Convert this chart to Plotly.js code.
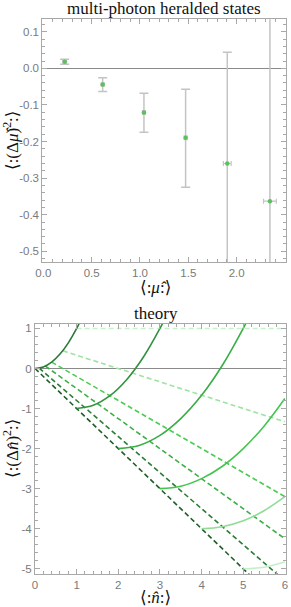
<!DOCTYPE html>
<html>
<head>
<meta charset="utf-8">
<script src="https://cdn.plot.ly/plotly-3.0.1.min.js"></script>
<style>html,body{margin:0;padding:0;background:#fff;}#chart{width:291px;height:607px;}</style>
</head>
<body>
<div id="chart"></div>
<script>
// ---- top panel: multi-photon heralded states ----
const muX = [0.221, 0.614, 1.041, 1.472, 1.903, 2.344];
const muY = [0.018, -0.044, -0.121, -0.190, -0.260, -0.363];
const muYErrPlus = [0.007, 0.018, 0.053, 0.133, 0.304, 0.6];
const muYErrMinus = [0.007, 0.019, 0.054, 0.135, 0.304, 0.6];
const muXErr = [0.02, 0.015, 0.015, 0.015, 0.04, 0.066];
const topXTicks = [0, 0.5, 1, 1.5, 2, 2.5];
const topXTickText = ["0.0", "0.5", "1.0", "1.5", "2.0", "2.5"];
const topYTicks = [-0.5, -0.4, -0.3, -0.2, -0.1, 0, 0.1];
const topYTickText = ["-0.5", "-0.4", "-0.3", "-0.2", "-0.1", "0.0", "0.1"];

// ---- bottom panel: theory ----
// solid curves (k added photons)
const curveX0 = [0, 0.2, 0.4, 0.6, 0.8, 1.0, 1.1];
const curveY0 = [0, 0.04, 0.16, 0.36, 0.64, 1.0, 1.21];
const curveX1 = [1, 1.4, 1.8, 2.2, 2.6, 3.0, 3.15];
const curveY1 = [-1, -0.92, -0.68, -0.28, 0.28, 1.0, 1.31];
const curveX2 = [2, 2.5, 3, 3.5, 4, 4.5, 5, 5.15];
const curveY2 = [-2, -1.92, -1.67, -1.25, -0.67, 0.08, 1.0, 1.31];
const curveX3 = [3, 3.5, 4, 4.5, 5, 5.5, 6];
const curveY3 = [-3, -2.94, -2.75, -2.44, -2.0, -1.44, -0.75];
const curveX4 = [4, 4.5, 5, 5.5, 6];
const curveY4 = [-4, -3.95, -3.8, -3.55, -3.2];
const curveX5 = [5, 5.5, 6];
const curveY5 = [-5, -4.96, -4.83];
// dashed lines (constant mean thermal number)
const dashX0 = [0, 5.3];   const dashY0 = [0, -5.3];
const dashX1 = [0.1, 6];   const dashY1 = [0.01, -5.3];
const dashX2 = [0.25, 6];  const dashY2 = [0.06, -4.25];
const dashX3 = [0.4, 6];   const dashY3 = [0.16, -3.2];
const dashX4 = [0.67, 6];  const dashY4 = [0.44, -1.33];
const dashX5 = [1, 6];     const dashY5 = [1, 1];
const botXTicks = [0, 1, 2, 3, 4, 5, 6];
const botXTickText = ["0", "1", "2", "3", "4", "5", "6"];
const botYTicks = [-5, -4, -3, -2, -1, 0, 1];
const botYTickText = ["-5", "-4", "-3", "-2", "-1", "0", "1"];

const solidColors = ['#2b7a38', '#32923f', '#3aad47', '#46c450', '#92dc96', '#c6eec8'];
const dashColors = ['#1e5e28', '#2a7d35', '#3caf47', '#4ccb53', '#9fe3a1', '#c8f0ca'];

const curvesX = [curveX0, curveX1, curveX2, curveX3, curveX4, curveX5];
const curvesY = [curveY0, curveY1, curveY2, curveY3, curveY4, curveY5];
const dashesX = [dashX0, dashX1, dashX2, dashX3, dashX4, dashX5];
const dashesY = [dashY0, dashY1, dashY2, dashY3, dashY4, dashY5];

const traces = [];
dashesX.forEach((xs, i) => {
  traces.push({x: xs, y: dashesY[i], xaxis: 'x2', yaxis: 'y2', mode: 'lines', type: 'scatter',
    line: {color: dashColors[i], width: 1.6, dash: '5px,3px'}, hoverinfo: 'skip'});
});
curvesX.forEach((xs, i) => {
  traces.push({x: xs, y: curvesY[i], xaxis: 'x2', yaxis: 'y2', mode: 'lines', type: 'scatter',
    line: {color: solidColors[i], width: 1.6, shape: 'spline', smoothing: 1}, hoverinfo: 'skip'});
});
traces.push({
  x: muX, y: muY, xaxis: 'x', yaxis: 'y', mode: 'markers', type: 'scatter',
  marker: {color: '#5cbf62', size: 4.5},
  error_y: {type: 'data', symmetric: false, array: muYErrPlus, arrayminus: muYErrMinus,
            color: '#c4c4c4', thickness: 1.5, width: 4.5},
  error_x: {type: 'data', array: muXErr, color: '#c4c4c4', thickness: 1.2, width: 2.5}
});

const frameGray = '#a8a8a8';
const tickFont = {family: 'Liberation Sans, Arial, sans-serif', size: 11.5, color: '#7a7a7a'};
function axisBase(extra) {
  return Object.assign({
    showgrid: false, zeroline: false, showline: true, linecolor: frameGray, linewidth: 1,
    mirror: 'allticks', ticks: 'inside', ticklen: 5, tickcolor: frameGray, tickwidth: 1,
    tickfont: tickFont, tickmode: 'array', fixedrange: true
  }, extra);
}

const serif = 'Liberation Serif, DejaVu Serif, Times New Roman, serif';
function note(text, px, py, angle) {
  return {text: text, xref: 'paper', yref: 'paper', x: px / 291, y: (607 - py) / 607,
    xanchor: 'center', yanchor: 'middle', textangle: angle || 0, showarrow: false,
    font: {family: serif, size: 17, color: '#111'}};
}
const layout = {
  width: 291, height: 607,
  margin: {l: 0, r: 0, t: 0, b: 0},
  paper_bgcolor: '#fff', plot_bgcolor: '#fff',
  showlegend: false,
  xaxis: axisBase({domain: [0.1454, 0.9828], range: [-0.0103, 2.5103], anchor: 'y',
    tickvals: topXTicks, ticktext: topXTickText,
    minor: {tickmode: 'linear', tick0: 0, dtick: 0.1, ticks: 'inside', ticklen: 3, tickcolor: frameGray}}),
  yaxis: axisBase({domain: [0.5679, 0.9682], range: [-0.530, 0.134], anchor: 'x',
    tickvals: topYTicks, ticktext: topYTickText,
    zeroline: true, zerolinecolor: '#8a8a8a', zerolinewidth: 1.2,
    minor: {tickmode: 'linear', tick0: 0, dtick: 0.02, ticks: 'inside', ticklen: 3, tickcolor: frameGray}}),
  xaxis2: axisBase({domain: [0.1203, 0.9818], range: [0, 6.02], anchor: 'y2',
    tickvals: botXTicks, ticktext: botXTickText,
    minor: {tickmode: 'linear', tick0: 0, dtick: 0.2, ticks: 'inside', ticklen: 3, tickcolor: frameGray}}),
  yaxis2: axisBase({domain: [0.0544, 0.4662], range: [-5.13, 1.11], anchor: 'x2',
    tickvals: botYTicks, ticktext: botYTickText,
    zeroline: true, zerolinecolor: '#8a8a8a', zerolinewidth: 1.2,
    minor: {tickmode: 'linear', tick0: 0, dtick: 0.2, ticks: 'inside', ticklen: 3, tickcolor: frameGray}}),
  annotations: [
    note('multi-photon heralded states', 164, 9),
    note('theory', 156, 313),
    note('⟨:(Δ<i>μ̂</i>)<sup>2</sup>:⟩', 11, 141, -90),
    note('⟨:(Δ<i>n̂</i>)<sup>2</sup>:⟩', 11, 449, -90),
    note('⟨:<i>μ̂</i>:⟩', 155, 287),
    note('⟨:<i>n̂</i>:⟩', 155, 597)
  ]
};

Plotly.newPlot('chart', traces, layout, {staticPlot: true, displayModeBar: false});
</script>
</body>
</html>
